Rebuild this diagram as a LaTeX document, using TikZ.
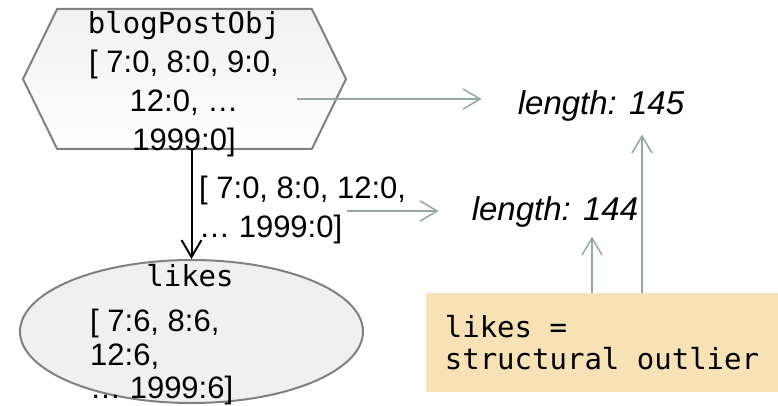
\documentclass[tikz,border=0pt]{standalone}
\usepackage{fontspec}
\setmainfont{Liberation Sans}
\setmonofont{DejaVu Sans Mono}
\usetikzlibrary{positioning,shapes.geometric,shapes.symbols,arrows.meta}

\definecolor{edgegray}{HTML}{808080}
\definecolor{arrgreen}{HTML}{94A89E}
\definecolor{wheatbox}{HTML}{F7E1B5}
\definecolor{lightfill}{HTML}{F0F0F0}
\newcommand{\codefont}{\fontsize{29}{39}\selectfont\ttfamily}

\begin{document}
\begin{tikzpicture}[x=1pt,y=-1pt,
            txt/.style={
                    font=\fontsize{31}{39}\selectfont,
                    inner sep=0pt,
                    align=center
                },
            hexa/.style={
                    draw=edgegray,
                    line width=2pt,
                    shape=signal,
                    signal to=west and east,
                    signal pointer angle=128,
                    minimum width=323pt,
                    minimum height=140pt,
                    top color=lightfill,
                    bottom color=white
                },
            oval/.style={
                    draw=edgegray,
                    line width=2pt,
                    ellipse,
                    fill=lightfill,
                    minimum width=343pt,
                    minimum height=143pt
                },
            note/.style={
                    fill=wheatbox,
                    minimum width=352pt,
                    minimum height=99pt,
                    align=left,
                    font=\fontsize{29}{32}\selectfont\ttfamily,
                    inner sep=0pt
                },
            lenlbl/.style={
                    font=\fontsize{33}{39}\selectfont\itshape,
                    inner sep=0pt
                },
            flow/.style={line width=2pt,-{Straight Barb[length=17pt,width=20pt]}},
            gry/.style={arrgreen,line width=1.5pt,-{Straight Barb[length=17pt,width=20pt]}}
        ]
        \useasboundingbox (0,0) rectangle (778,406);

        \node[hexa] (blog) at (184.5,79) {};
        \node[txt] (blogtxt) at (184,84)
        {{\codefont blogPostObj}\\{[} 7:0, 8:0, 9:0,\\12:0, …\\1999:0]};

        \node[oval] (likes) at (191.5,331.5) {};
        \node[txt] (likesname) at (190,276) {{\codefont likes}};
        \node[txt,align=left,anchor=west,font=\fontsize{31}{33.5}\selectfont] (likesvals) at (90,357)
        {{[} 7:6, 8:6,\\12:6,\\… 1999:6]};

        \node[txt,align=left,anchor=west] (filt) at (199,210)
        {{[} 7:0, 8:0, 12:0,\\… 1999:0]};

        \node[lenlbl] (len145) at (601,106) {length: 145};
        \node[lenlbl] (len144) at (555,212) {length: 144};

        \node[note] (outl) at (602,342.5) {likes =\\structural outlier};

        \coordinate (blogout) at (297,99);
        \coordinate (filtout) at (347,211);

        \draw[flow] (likes.north |- blog.south) -- (likes.north);
        \draw[gry] (blogout) -- ([xshift=-36pt]len145.west |- blogout);
        \draw[gry] (filtout) -- ([xshift=-33pt]len144.west |- filtout);
        \draw[gry,shorten >=9pt] ([xshift=-10pt]outl.north) -- ([xshift=-10pt]outl.north |- len144.south);
        \draw[gry,shorten >=13pt] ([xshift=40pt]outl.north) -- ([xshift=40pt]outl.north |- len145.south);
    \end{tikzpicture}
\end{document}
